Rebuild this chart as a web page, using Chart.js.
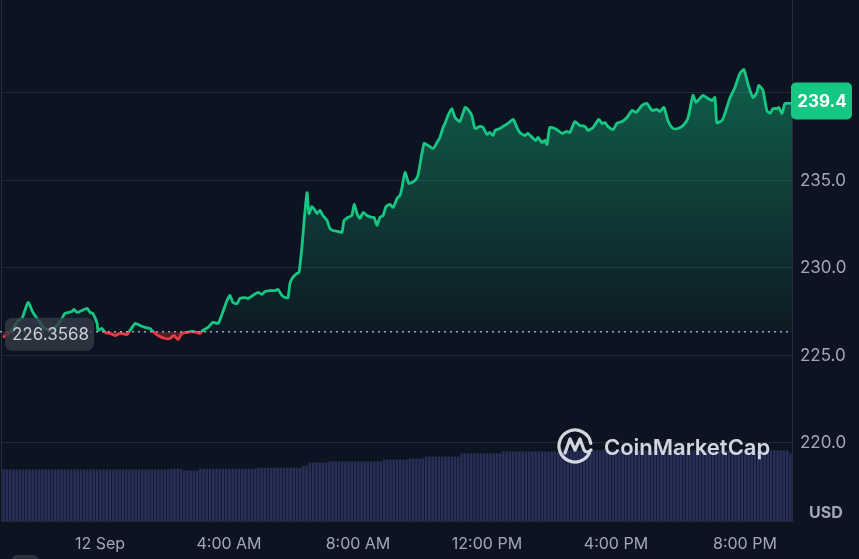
<!DOCTYPE html>
<html>
<head>
<meta charset="utf-8">
<script src="https://cdn.jsdelivr.net/npm/chart.js@4.4.1/dist/chart.umd.min.js"></script>
<style>
  html, body { margin: 0; padding: 0; background: #0d1421; }
  #wrap { width: 859px; height: 559px; }
</style>
</head>
<body>
<div id="wrap"><canvas id="priceChart" width="859" height="559"></canvas></div>
<script>
// hours since 00:00 on 12 Sep (negative = evening of 11 Sep)
const hours = [
  -3.01, -2.73, -2.54, -2.42, -2.23, -2.08, -1.95, -1.71, -1.49, -1.30,
  -1.18, -1.09, -0.87, -0.81, -0.71, -0.56, -0.40, -0.31, -0.22, -0.09,
  -0.06, 0.06, 0.16, 0.31, 0.47, 0.62, 0.84, 0.93, 1.09, 1.24,
  1.40, 1.55, 1.64, 1.80, 2.02, 2.17, 2.29, 2.42, 2.54, 2.70,
  2.85, 3.01, 3.10, 3.19, 3.35, 3.50, 3.66, 3.78, 3.94, 4.03,
  4.12, 4.25, 4.34, 4.50, 4.59, 4.74, 4.90, 5.02, 5.12, 5.27,
  5.43, 5.52, 5.64, 5.74, 5.83, 5.89, 5.98, 6.11, 6.17, 6.26,
  6.33, 6.42, 6.48, 6.57, 6.67, 6.73, 6.82, 6.91, 7.04, 7.13,
  7.22, 7.38, 7.50, 7.57, 7.69, 7.81, 7.88, 7.97, 8.06, 8.16,
  8.28, 8.43, 8.50, 8.59, 8.68, 8.78, 8.87, 8.99, 9.09, 9.21,
  9.30, 9.36, 9.46, 9.58, 9.77, 9.86, 10.05, 10.17, 10.33, 10.45,
  10.54, 10.64, 10.70, 10.79, 10.91, 11.01, 11.16, 11.32, 11.41, 11.53,
  11.63, 11.78, 11.88, 12.00, 12.09, 12.19, 12.25, 12.40, 12.50, 12.65,
  12.81, 12.93, 13.02, 13.18, 13.27, 13.40, 13.52, 13.58, 13.71, 13.80,
  13.86, 13.95, 14.11, 14.20, 14.33, 14.48, 14.57, 14.73, 14.88, 15.04,
  15.13, 15.29, 15.47, 15.57, 15.66, 15.75, 15.91, 16.03, 16.19, 16.34,
  16.50, 16.62, 16.81, 16.96, 17.12, 17.27, 17.36, 17.49, 17.61, 17.77,
  17.92, 18.08, 18.23, 18.39, 18.48, 18.60, 18.70, 18.85, 18.98, 19.07,
  19.13, 19.29, 19.38, 19.53, 19.69, 19.84, 19.97, 20.09, 20.25, 20.37,
  20.43, 20.56, 20.68, 20.78, 20.87, 20.99, 21.05, 21.15, 21.24, 21.33,
  21.46
];

// price in USD
const prices = [
  226.03, 226.43, 227.00, 227.11, 228.03, 227.46, 227.11, 226.54, 226.43, 226.77,
  227.11, 227.40, 227.51, 227.63, 227.46, 227.57, 227.69, 227.46, 227.40, 226.83,
  226.43, 226.54, 226.31, 226.26, 226.14, 226.26, 226.20, 226.43, 226.83, 226.71,
  226.60, 226.54, 226.37, 226.14, 225.97, 225.97, 226.14, 225.91, 226.26, 226.31,
  226.37, 226.31, 226.26, 226.43, 226.60, 226.89, 226.83, 227.34, 228.14, 228.43,
  228.03, 227.97, 228.26, 228.31, 228.26, 228.43, 228.60, 228.49, 228.66, 228.71,
  228.71, 228.77, 228.43, 228.31, 228.31, 229.11, 229.46, 229.69, 229.74, 231.17,
  232.71, 234.31, 233.11, 233.51, 233.29, 233.11, 233.29, 233.00, 232.71, 232.26,
  232.14, 232.09, 232.03, 232.71, 232.89, 233.00, 233.63, 233.11, 232.83, 233.17,
  233.00, 232.89, 232.89, 232.43, 232.89, 233.00, 233.51, 233.63, 233.46, 233.97,
  234.14, 234.54, 235.46, 234.83, 235.00, 235.29, 237.11, 237.00, 236.83, 237.17,
  237.46, 238.03, 238.26, 238.71, 239.11, 238.60, 238.37, 239.17, 239.06, 238.71,
  237.97, 238.09, 238.03, 237.63, 237.74, 237.57, 237.86, 237.97, 238.09, 238.26,
  238.49, 238.03, 237.74, 237.57, 237.69, 237.46, 237.29, 237.46, 237.17, 237.29,
  237.06, 238.03, 237.97, 237.86, 237.69, 237.80, 237.74, 238.37, 238.14, 238.09,
  237.86, 238.03, 238.49, 238.26, 238.31, 238.09, 237.91, 238.26, 238.37, 238.60,
  239.00, 238.89, 239.29, 239.40, 239.00, 239.06, 238.94, 239.17, 238.43, 237.97,
  237.97, 238.14, 238.54, 239.86, 239.46, 239.69, 239.86, 239.69, 239.57, 239.74,
  238.31, 238.43, 238.83, 239.69, 240.31, 241.11, 241.34, 240.54, 239.74, 240.03,
  240.43, 240.14, 239.00, 238.83, 239.11, 239.11, 239.17, 238.83, 239.40, 239.40,
  239.40
];

// 24h volume (billion USD), one bar every 6 minutes starting at volStartHour
const volStartHour = -2.99;
const volStepHour = 0.1;
const volumes = [
  7, 7, 7, 7, 7, 7, 7, 7, 7, 7,
  7, 7, 7, 7, 7, 7, 7, 7, 7, 7,
  7, 7, 7, 7, 7, 7, 7, 7, 7, 7,
  7, 7, 7, 7, 7, 7, 7, 7, 7, 7,
  7, 7, 7, 7, 7, 7, 7, 7, 7, 7,
  7, 7, 7.1, 7.1, 7.1, 7.1, 6.85, 6.85, 6.85, 6.85,
  6.85, 7.1, 7.1, 7.1, 7.1, 7.1, 7.1, 7.1, 7.1, 7.1,
  7.1, 7.1, 7.1, 7.1, 7.1, 7.1, 7.1, 7.1, 7.1, 7.25,
  7.25, 7.25, 7.25, 7.25, 7.25, 7.25, 7.25, 7.25, 7.25, 7.25,
  7.25, 7.25, 7.25, 7.55, 7.55, 7.95, 7.95, 7.95, 7.95, 7.95,
  7.95, 8.1, 8.1, 8.1, 8.1, 8.1, 8.1, 8.1, 8.1, 8.1,
  8.1, 8.1, 8.1, 8.1, 8.1, 8.1, 8.1, 8.1, 8.35, 8.35,
  8.35, 8.35, 8.35, 8.35, 8.35, 8.35, 8.5, 8.5, 8.5, 8.5,
  8.5, 8.75, 8.75, 8.75, 8.75, 8.75, 8.75, 8.75, 8.75, 8.75,
  8.75, 8.75, 9.2, 9.2, 9.2, 9.2, 9.2, 9.2, 9.2, 9.2,
  9.2, 9.2, 9.2, 9.2, 9.2, 9.45, 9.45, 9.45, 9.45, 9.45,
  9.45, 9.45, 9.45, 9.45, 9.45, 9.45, 9.45, 9.45, 9.45, 9.45,
  9.45, 9.45, 9.45, 9.6, 9.6, 9.6, 9.6, 9.6, 9.6, 9.6,
  9.6, 9.6, 9.6, 9.6, 9.6, 9.6, 9.6, 9.6, 9.6, 9.6,
  9.6, 9.6, 9.6, 9.6, 9.6, 9.6, 9.6, 9.6, 9.6, 9.6,
  9.6, 9.6, 9.6, 9.6, 9.6, 9.6, 9.6, 9.6, 9.6, 9.6,
  9.6, 9.6, 9.6, 9.6, 9.6, 9.6, 9.6, 9.6, 9.6, 9.6,
  9.6, 9.6, 9.6, 9.6, 9.6, 9.6, 9.6, 9.6, 9.6, 9.6,
  9.6, 9.6, 9.6, 9.6, 9.6, 9.6, 9.6, 9.6, 9.6, 9.6,
  9.6, 9.6, 9.6, 9.6, 9.2
];

const basePrice = 226.3568;
const lastPrice = 239.4;

const xTickHours = [0, 4, 8, 12, 16, 20];
const xTickLabels = ['12 Sep', '4:00 AM', '8:00 AM', '12:00 PM', '4:00 PM', '8:00 PM'];
const yTickValues = [220, 225, 230, 235, 240];

const green = '#16c784';
const red = '#ea3943';
const bg = '#0d1421';
const gridColor = '#222836';
const tickColor = '#a1a7bb';

Chart.defaults.font.family = 'Inter, "Noto Sans", sans-serif';

// line colour switches from green to red at the opening price
const lineColor = (context) => {
  const { ctx, chartArea, scales } = context.chart;
  if (!chartArea) return green;
  const yb = scales.y.getPixelForValue(basePrice);
  const f = Math.min(1, Math.max(0, (yb - chartArea.top) / (chartArea.bottom - chartArea.top)));
  const g = ctx.createLinearGradient(0, chartArea.top, 0, chartArea.bottom);
  g.addColorStop(0, green);
  g.addColorStop(f, green);
  g.addColorStop(f, red);
  g.addColorStop(1, red);
  return g;
};

// green area fades out towards the opening price
const fillColor = (context) => {
  const { ctx, chartArea, scales } = context.chart;
  if (!chartArea) return 'rgba(22,199,132,0.2)';
  const yTop = scales.y.getPixelForValue(Math.max(...prices));
  const yb = scales.y.getPixelForValue(basePrice);
  const g = ctx.createLinearGradient(0, yTop, 0, yb);
  g.addColorStop(0, 'rgba(22,199,132,0.42)');
  g.addColorStop(1, 'rgba(22,199,132,0.03)');
  return g;
};

const roundRect = (ctx, x, y, w, h, r) => {
  ctx.beginPath();
  ctx.moveTo(x + r, y);
  ctx.arcTo(x + w, y, x + w, y + h, r);
  ctx.arcTo(x + w, y + h, x, y + h, r);
  ctx.arcTo(x, y + h, x, y, r);
  ctx.arcTo(x, y, x + w, y, r);
  ctx.closePath();
};

const background = {
  id: 'background',
  beforeDraw(chart) {
    const { ctx, width, height } = chart;
    ctx.save();
    ctx.fillStyle = bg;
    ctx.fillRect(0, 0, width, height);
    ctx.restore();
  }
};

const overlay = {
  id: 'overlay',
  afterDatasetsDraw(chart) {
    const { ctx, chartArea, scales } = chart;
    const yb = scales.y.getPixelForValue(basePrice);
    const yl = scales.y.getPixelForValue(lastPrice);
    ctx.save();

    // frame lines
    ctx.strokeStyle = '#262c3a';
    ctx.lineWidth = 1;
    ctx.beginPath();
    ctx.moveTo(chartArea.right + 0.5, 0);
    ctx.lineTo(chartArea.right + 0.5, chartArea.bottom);
    ctx.moveTo(1.5, 0);
    ctx.lineTo(1.5, chartArea.bottom);
    ctx.stroke();

    // dotted opening price line
    ctx.setLineDash([2, 4]);
    ctx.strokeStyle = '#9aa2b3';
    ctx.lineWidth = 1.5;
    ctx.beginPath();
    ctx.moveTo(0, yb);
    ctx.lineTo(chartArea.right, yb);
    ctx.stroke();
    ctx.setLineDash([]);

    // watermark
    ctx.strokeStyle = 'rgba(226,230,238,0.92)';
    ctx.fillStyle = 'rgba(226,230,238,0.92)';
    ctx.lineWidth = 3.2;
    ctx.lineCap = 'round';
    ctx.lineJoin = 'round';
    const cx = 575, cy = 446, r = 16;
    ctx.beginPath();
    ctx.arc(cx, cy, r, 0.15 * Math.PI, 1.95 * Math.PI);
    ctx.stroke();
    ctx.beginPath();
    ctx.moveTo(cx - 10, cy + 7);
    ctx.lineTo(cx - 5, cy - 7);
    ctx.lineTo(cx, cy + 4);
    ctx.lineTo(cx + 5, cy - 7);
    ctx.lineTo(cx + 9, cy + 4);
    ctx.quadraticCurveTo(cx + 12, cy + 8, cx + 16, cy + 4);
    ctx.stroke();
    ctx.font = '600 22px Inter, "Noto Sans", sans-serif';
    ctx.textAlign = 'left';
    ctx.textBaseline = 'middle';
    ctx.fillText('CoinMarketCap', 604, 448);

    // opening price label
    ctx.fillStyle = 'rgba(52,56,70,0.8)';
    roundRect(ctx, 5, yb - 14, 89, 33, 7);
    ctx.fill();
    ctx.fillStyle = '#c8cdd8';
    ctx.font = '17px Inter, "Noto Sans", sans-serif';
    ctx.textAlign = 'left';
    ctx.fillText(basePrice.toFixed(4), 12, yb + 3);

    // current price tag
    ctx.fillStyle = green;
    roundRect(ctx, chartArea.right - 1, yl - 21, 61, 37, 5);
    ctx.fill();
    ctx.fillStyle = '#ffffff';
    ctx.font = 'bold 17px Inter, "Noto Sans", sans-serif';
    ctx.textAlign = 'center';
    ctx.fillText(lastPrice.toFixed(1), chartArea.right + 30, yl - 2);

    // currency
    ctx.fillStyle = tickColor;
    ctx.font = 'bold 16px Inter, "Noto Sans", sans-serif';
    ctx.textAlign = 'left';
    ctx.fillText('USD', 809, 513);

    // small control at the bottom edge
    ctx.fillStyle = '#2b303d';
    roundRect(ctx, 12, 555, 26, 12, 5);
    ctx.fill();
    ctx.restore();
  }
};

const ctx = document.getElementById('priceChart');
new Chart(ctx, {
  data: {
    datasets: [
      {
        type: 'line',
        label: 'Price',
        data: hours.map((h, i) => ({ x: h, y: prices[i] })),
        yAxisID: 'y',
        borderColor: lineColor,
        backgroundColor: fillColor,
        borderWidth: 2.8,
        pointRadius: 0,
        tension: 0.2,
        fill: { target: { value: basePrice }, below: 'rgba(234,57,67,0.28)' },
        order: 0,
      },
      {
        type: 'bar',
        label: 'Volume',
        data: volumes.map((v, i) => ({ x: volStartHour + i * volStepHour, y: v })),
        yAxisID: 'yv',
        backgroundColor: '#28305a',
        barPercentage: 0.78,
        categoryPercentage: 1,
        order: 1,
      },
    ],
  },
  options: {
    responsive: false,
    animation: false,
    layout: { padding: { left: 2, top: 6, right: 0, bottom: 0 } },
    plugins: {
      legend: { display: false },
      tooltip: { enabled: false },
    },
    scales: {
      x: {
        type: 'linear',
        offset: false,
        min: -3.04,
        max: 21.46,
        grid: { display: false, offset: false },
        border: { display: true, color: gridColor },
        afterBuildTicks: (scale) => {
          scale.ticks = xTickHours.map((h) => ({ value: h }));
        },
        afterFit: (scale) => {
          scale.height = 38;
          scale.paddingLeft = 0;
          scale.paddingRight = 0;
        },
        ticks: {
          color: tickColor,
          font: { size: 16 },
          padding: 6,
          maxRotation: 0,
          autoSkip: false,
          callback: (value) => xTickLabels[xTickHours.indexOf(value)],
        },
      },
      y: {
        position: 'right',
        min: 215.54,
        max: 244.97,
        grid: { color: gridColor, drawTicks: false },
        border: { display: false },
        afterBuildTicks: (scale) => {
          scale.ticks = yTickValues.map((v) => ({ value: v }));
        },
        afterFit: (scale) => {
          scale.width = 67;
          scale.paddingTop = 0;
          scale.paddingBottom = 0;
        },
        ticks: {
          color: tickColor,
          font: { size: 17 },
          padding: 8,
          callback: (value) => value.toFixed(1),
        },
      },
      yv: {
        display: false,
        min: 0,
        max: 70,
      },
    },
  },
  plugins: [background, overlay],
});
</script>
</body>
</html>
